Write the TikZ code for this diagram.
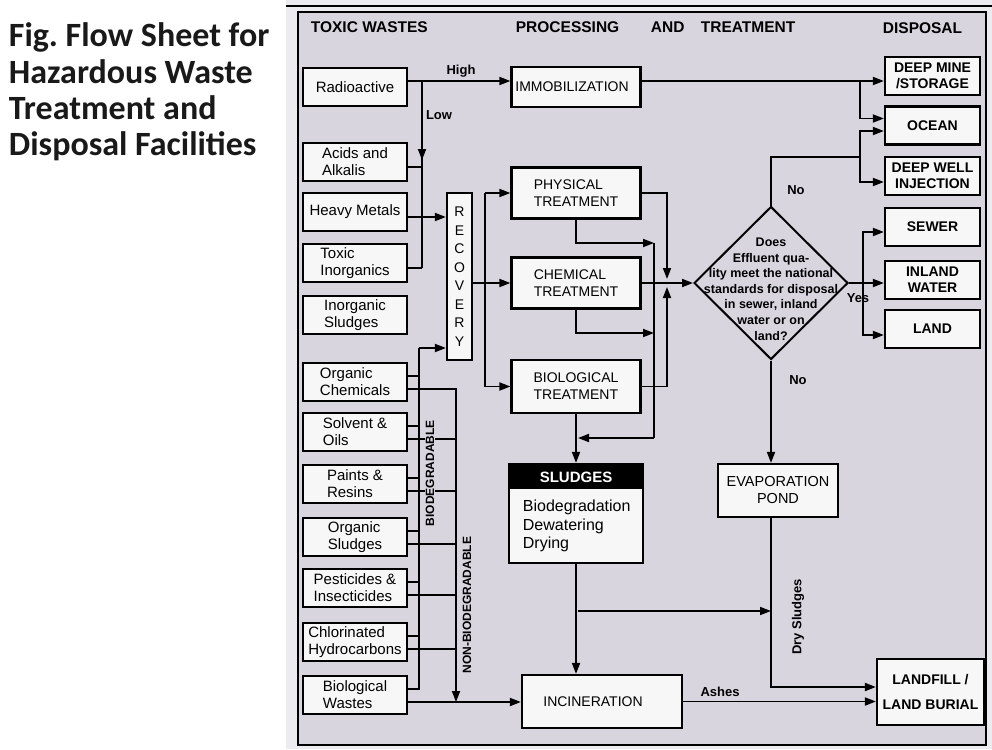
\documentclass[tikz,border=0pt]{standalone}
\usepackage{fontspec}
\setmainfont{Liberation Sans}
\newfontfamily\titlefont{Carlito}
\usetikzlibrary{arrows.meta,shapes.geometric}
\definecolor{bgcol}{RGB}{216,213,223}
\definecolor{photocol}{RGB}{236,235,240}
\definecolor{boxfill}{RGB}{247,247,248}
\begin{document}
\begin{tikzpicture}[x=1pt,y=-1pt,line width=1.8pt,
  arr/.style={-{Triangle[length=11pt,width=8pt]}},
  lbox/.style={draw,fill=boxfill,line width=2.2pt,minimum width=104pt,minimum height=38pt,align=left,inner sep=2pt,font=\fontsize{15}{17}\selectfont},
  mbox/.style={draw,fill=boxfill,line width=2.2pt,minimum width=129pt,minimum height=51pt,align=left,inner sep=2pt,font=\fontsize{14}{17}\selectfont},
  rbox/.style={draw,fill=boxfill,line width=2.2pt,minimum width=95pt,minimum height=38pt,align=center,inner sep=2pt,font=\bfseries\fontsize{14}{16}\selectfont},
  lab/.style={font=\bfseries\fontsize{13}{15}\selectfont,inner sep=0pt},
  hdr/.style={font=\bfseries\fontsize{15.5}{18}\selectfont,anchor=west,inner sep=0pt}]
\useasboundingbox (0,0) rectangle (992,749);
\fill[white] (0,0) rectangle (992,749);
\fill[photocol] (286,0) rectangle (992,749);
\fill[bgcol] (298,12) rectangle (986,745);
\draw[line width=2pt] (286,6) -- (992,6);
\draw[line width=2.5pt] (298,12) rectangle (986,745);
% title
\node[anchor=west,align=left,inner sep=0pt,font=\titlefont\bfseries\fontsize{34}{36.3}\selectfont,text=black!90] (title) at (8,92) {Fig.\ Flow Sheet for\\Hazardous Waste\\Treatment and\\Disposal Facilities};
% headers
\node[hdr] (h1) at (310,27) {TOXIC WASTES};
\node[hdr] (h2) at (515,27) {PROCESSING};
\node[hdr] (h3) at (650,27) {AND};
\node[hdr] (h4) at (700,27) {TREATMENT};
\node[hdr] (h5) at (882,28) {DISPOSAL};
% left boxes
\node[lbox] (rad) at (355,87) {Radioactive};
\node[lbox] (acid) at (355,162) {Acids and\\Alkalis};
\node[lbox] (heavy) at (355,212) {Heavy Metals};
\node[lbox] (toxi) at (355,263) {Toxic\\Inorganics};
\node[lbox] (inos) at (355,315) {Inorganic\\Sludges};
\node[lbox] (orgc) at (355,382) {Organic\\Chemicals};
\node[lbox] (solv) at (355,432) {Solvent \&\\Oils};
\node[lbox] (pain) at (355,484) {Paints \&\\Resins};
\node[lbox] (orgs) at (355,537) {Organic\\Sludges};
\node[lbox] (pest) at (355,588) {Pesticides \&\\Insecticides};
\node[lbox] (chlo) at (355,642) {Chlorinated\\Hydrocarbons};
\node[lbox] (biow) at (355,695) {Biological\\Wastes};
% recovery
\node[draw,fill=boxfill,line width=2.2pt,minimum width=25pt,minimum height=167pt,inner sep=0pt,align=center,font=\fontsize{14}{18.5}\selectfont] (rec) at (459.5,276.5) {R\\E\\C\\O\\V\\E\\R\\Y};
% middle boxes
\node[mbox,minimum height=40pt] (imm) at (576,87) {\hspace*{-8pt}IMMOBILIZATION};
\node[mbox] (phys) at (576,193) {PHYSICAL\\TREATMENT};
\node[mbox] (chem) at (576,283) {CHEMICAL\\TREATMENT};
\node[mbox,minimum height=53pt] (biot) at (576,386.5) {BIOLOGICAL\\TREATMENT};
% sludges
\node[draw,fill=boxfill,line width=2.2pt,minimum width=134pt,minimum height=99pt,inner sep=0pt] (sl) at (576,513.5) {};
\fill[black] (sl.north west) rectangle ([yshift=-26pt]sl.north east);
\node[font=\bfseries\fontsize{15}{17}\selectfont,text=white,inner sep=0pt] (slh) at (576,477) {SLUDGES};
\node[anchor=west,align=left,inner sep=0pt,font=\fontsize{16}{18.5}\selectfont] (slt) at (522,526) {Biodegradation\\Dewatering\\Drying};
% decision
\node[draw,diamond,minimum width=154pt,minimum height=153pt,inner sep=0pt,line width=2pt] (dec) at (771,283) {};
\node[align=center,inner sep=0pt,font=\bfseries\fontsize{12.5}{15.6}\selectfont] (dect) at (771,289) {Does\\Effluent qua-\\lity meet the national\\standards for disposal\\in sewer, inland\\water or on\\land?};
% evaporation, incineration, landfill
\node[mbox,align=center,minimum width=120pt,minimum height=53pt,font=\fontsize{14.5}{17}\selectfont] (evap) at (778,490.5) {EVAPORATION\\POND};
\node[mbox,align=center,minimum width=160pt,minimum height=53pt] (inc) at (602,701.5) {\hspace*{-18pt}INCINERATION};
\node[rbox,minimum width=107pt,minimum height=66pt,font=\bfseries\fontsize{14}{25}\selectfont] (lf) at (930.5,692) {LANDFILL /\\LAND BURIAL};
% right boxes
\node[rbox] (dmine) at (932.5,76) {DEEP MINE\\/STORAGE};
\node[rbox] (ocean) at (932.5,125.5) {OCEAN};
\node[rbox] (dwell) at (932.5,176) {DEEP WELL\\INJECTION};
\node[rbox] (sewer) at (932.5,227) {SEWER};
\node[rbox] (inland) at (932.5,280) {INLAND\\WATER};
\node[rbox] (land) at (932.5,329) {LAND};
% coordinates
\coordinate (hi) at (422,81);
\coordinate (lowmid) at (422,160);
\coordinate (lowend) at (422,268);
\coordinate (bus) at (485,283);
\coordinate (bbtop) at (419,348);
\coordinate (bbbot) at (419,689);
\coordinate (nbtop) at (456,389);
\coordinate (nbbot) at (456,702);
\coordinate (j1) at (860,81);
\coordinate (j2) at (860,157);
\coordinate (j3) at (863,283);
\coordinate (jn) at (667,283);
\coordinate (cl) at (654,243);
\coordinate (cl2) at (654,333);
\coordinate (cl3) at (654,438);
\coordinate (sj) at (578,438);
\coordinate (sb) at (578,611);
\coordinate (ev) at (771,611);
\coordinate (ev1) at (771,687);
% left connectors
\draw[arr] ([yshift=6pt]rad.east) -- ([yshift=6pt]imm.west);
\draw (hi) -- (lowend);
\draw[arr] (hi) -- (lowmid);
\draw ([yshift=-5pt]acid.east) -- ++(15,0);
\draw ([yshift=-5pt]toxi.east) -- (lowend);
\draw[arr] ([yshift=-5pt]heavy.east) -- ([yshift=-5pt]heavy.east -| rec.west);
% organic collectors
\draw (bbtop) -- (bbbot);
\draw[arr] (bbtop) -- (rec.west |- bbtop);
\foreach \b in {orgc,solv,pain,orgs,pest,chlo} {
  \draw ([yshift=6pt]\b.east) -- ++(12,0);
  \draw ([yshift=-7pt]\b.east) -- ++(49,0);
}
\draw ([yshift=6pt]biow.east) -- ++(12,0);
\draw[arr] (nbtop) -- (nbbot);
\draw[arr] (biow.east |- nbbot) -- (inc.west |- nbbot);
\node[lab,rotate=90,fill=bgcol,inner sep=1pt,font=\bfseries\fontsize{12}{14}\selectfont] (biodeg) at (430,473) {BIODEGRADABLE};
\node[lab,rotate=90,fill=bgcol,inner sep=1pt,font=\bfseries\fontsize{12}{14}\selectfont] (nonbio) at (467,605) {NON-BIODEGRADABLE};
% recovery to treatments
\draw (rec.east |- bus) -- (bus);
\draw (bus |- phys.west) -- (bus |- biot.west);
\draw[arr] (bus |- phys.west) -- (phys.west);
\draw[arr] (bus) -- (chem.west);
\draw[arr] (bus |- biot.west) -- (biot.west);
% treatment outputs
\draw[arr] (phys.east) -| ([yshift=4pt]jn);
\draw[arr] (biot.east) -| ([yshift=-4pt]jn);
\draw[arr] (chem.east) -- (dec.west);
\draw[arr] (phys.south) |- (cl);
\draw[arr] (chem.south) |- (cl2);
\draw (cl) -- (cl3);
\draw[arr] (cl3) -- (sj);
\draw[arr] (biot.south) -- (sl.north);
\draw[arr] (sl.south) -- (sl.south |- inc.north);
\draw[arr] (sb) -- (ev);
% decision outputs
\draw[arr] ([yshift=6pt]imm.east) -- ([yshift=-5pt]dmine.west);
\draw[arr] (j1) |- ([yshift=7pt]ocean.west);
\draw (dec.north) |- (j2);
\draw[arr] (j2) |- ([yshift=-5.5pt]ocean.west);
\draw[arr] (j2) |- ([yshift=-6pt]dwell.west);
\draw (dec.east) -- (j3);
\draw[arr] (j3) |- ([yshift=-5pt]sewer.west);
\draw[arr] (j3) -- (inland.west |- j3);
\draw[arr] (j3) |- ([yshift=-6pt]land.west);
\draw[arr] (dec.south) -- (dec.south |- evap.north);
\draw[arr] (dec.south |- evap.south) -- (ev1) -- (lf.west |- ev1);
\draw[arr] (inc.east) -- (inc.east -| lf.west);
% labels
\node[lab] (lhigh) at (461,71) {High};
\node[lab] (llow) at (439,115) {Low};
\node[lab] (lno1) at (796,190) {No};
\node[lab] (lyes) at (858,298) {Yes};
\node[lab] (lno2) at (798,380) {No};
\node[lab] (lash) at (720,692) {Ashes};
\node[lab,rotate=90,font=\bfseries\fontsize{13}{15}\selectfont] (ldry) at (798,617) {Dry Sludges};
\end{tikzpicture}
\end{document}
